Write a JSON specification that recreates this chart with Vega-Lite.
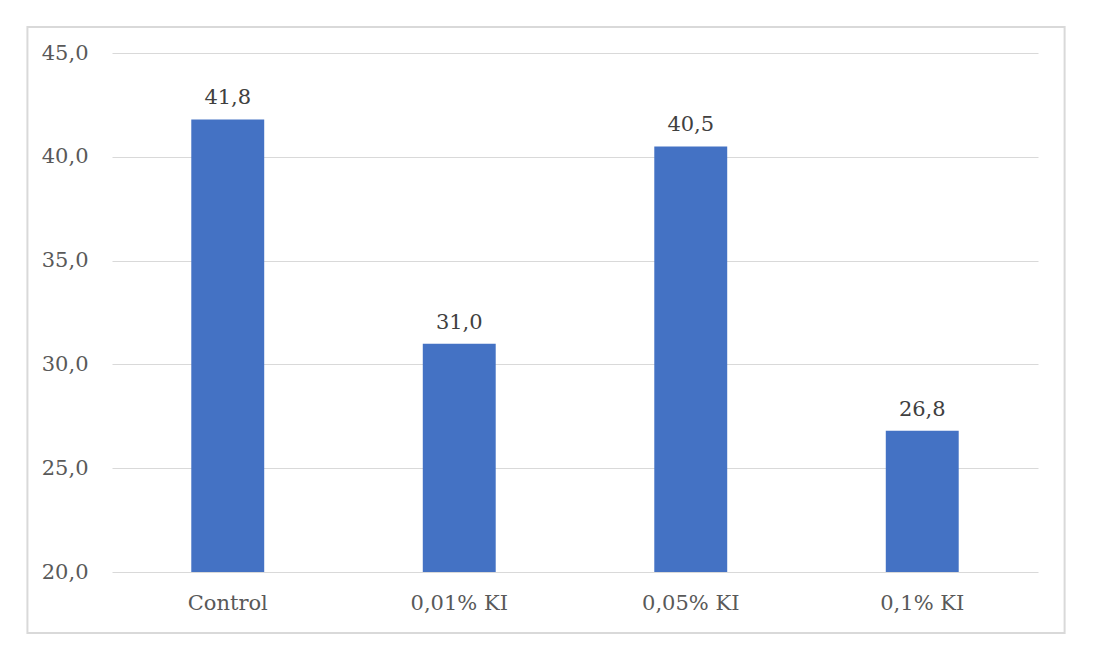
{
  "$schema": "https://vega.github.io/schema/vega-lite/v6.json",
  "width": 926,
  "height": 519,
  "autosize": {"type": "none"},
  "padding": {"left": 112, "top": 53, "right": 55, "bottom": 82},
  "background": "white",
  "config": {
    "view": {"stroke": null},
    "locale": {"number": {"decimal": ",", "thousands": ".", "grouping": [3], "currency": ["", " €"]}},
    "font": "DejaVu Serif"
  },
  "data": {
    "values": [
      {"group": "Control", "value": 41.8},
      {"group": "0,01% KI", "value": 31.0},
      {"group": "0,05% KI", "value": 40.5},
      {"group": "0,1% KI", "value": 26.8}
    ]
  },
  "encoding": {
    "x": {
      "field": "group", "type": "nominal", "sort": null,
      "scale": {"paddingInner": 0.685, "paddingOuter": 0.3425},
      "axis": {"title": null, "labelAngle": 0, "domain": false, "ticks": false, "labelFont": "DejaVu Serif", "labelFontSize": 21, "labelColor": "#595959", "labelPadding": 20}
    }
  },
  "layer": [
    {
      "mark": {"type": "bar", "color": "#4472c4"},
      "encoding": {
        "y": {
          "field": "value", "type": "quantitative",
          "scale": {"domain": [20, 45], "nice": false, "zero": false},
          "axis": {"title": null, "values": [20, 25, 30, 35, 40, 45], "format": ".1f", "domain": false, "ticks": false, "gridColor": "#d9d9d9", "gridWidth": 1, "labelFont": "DejaVu Serif", "labelFontSize": 21, "labelColor": "#595959", "labelPadding": 24}
        },
        "y2": {"datum": 20}
      }
    },
    {
      "mark": {"type": "text", "baseline": "alphabetic", "dy": -15, "fontSize": 21, "color": "#404040", "font": "DejaVu Serif"},
      "encoding": {
        "y": {"field": "value", "type": "quantitative"},
        "text": {"field": "value", "type": "quantitative", "format": ".1f"}
      }
    },
    {
      "data": {"values": [{"a": "Control", "b": "0,1% KI", "top": 46.25, "bottom": 17.06}]},
      "mark": {"type": "rect", "fill": null, "stroke": "#d9d9d9", "strokeWidth": 2, "clip": false},
      "encoding": {
        "x": {"field": "a", "type": "nominal", "bandPosition": -2.247},
        "x2": {"field": "b", "bandPosition": 2.452},
        "y": {"field": "top", "type": "quantitative"},
        "y2": {"field": "bottom"}
      }
    }
  ]
}
